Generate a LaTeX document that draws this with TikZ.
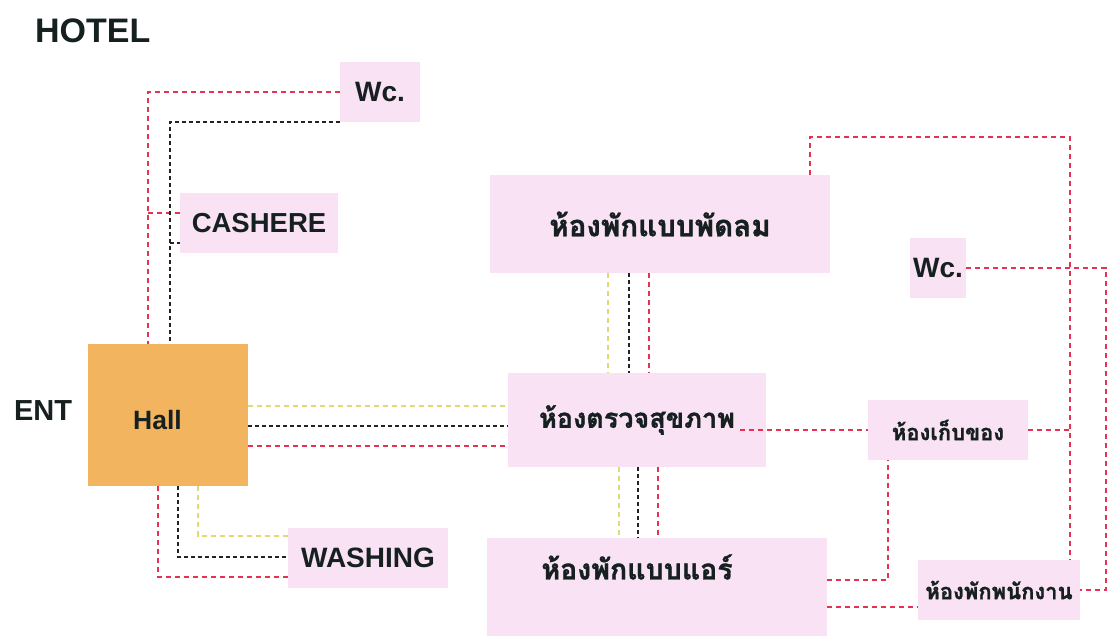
\documentclass[tikz,border=0pt]{standalone}
\usepackage{fontspec}
\setmainfont{Liberation Sans}
\newfontfamily\thaifont[Script=Thai, BoldFeatures={FakeBold=1.2}]{Loma}
\definecolor{pinkbox}{RGB}{248,226,243}
\definecolor{hallor}{RGB}{242,180,95}
\definecolor{redl}{RGB}{228,50,80}
\definecolor{blackl}{RGB}{35,35,35}
\definecolor{yell}{RGB}{222,218,120}
\definecolor{txt}{RGB}{22,32,32}
\begin{document}
\begin{tikzpicture}[x=1pt,y=-1pt,
  box/.style={fill=pinkbox, draw=none, inner sep=0pt, text=txt},
  lat/.style={font=\bfseries\fontsize{28}{30}\selectfont, text=txt},
  th/.style={font=\thaifont\bfseries\fontsize{#1}{32}\selectfont, text=txt},
  rl/.style={draw=redl, line width=1.3pt, dash pattern=on 5pt off 4pt},
  bl/.style={draw=blackl, line width=1.8pt, dash pattern=on 4pt off 3pt},
  yl/.style={draw=yell, line width=1.2pt, dash pattern=on 5pt off 4pt}]
\useasboundingbox[fill=white] (0,0) rectangle (1110,636);

% titles
\node[lat, font=\bfseries\fontsize{34}{36}\selectfont, anchor=west, inner sep=0pt] (hotel) at (35,31) {HOTEL};
\node[lat, font=\bfseries\fontsize{29}{31}\selectfont, inner sep=0pt] (ent) at (43,411) {ENT};

% boxes
\node[box, lat, minimum width=80pt, minimum height=60pt] (wc1) at (380,92) {Wc.};
\node[box, lat, font=\bfseries\fontsize{27.5}{30}\selectfont, minimum width=158pt, minimum height=60pt] (cash) at (259,223) {CASHERE};
\node[fill=hallor, draw=none, inner sep=0pt, minimum width=160pt, minimum height=142pt,
  label={[lat, font=\bfseries\fontsize{26.5}{28}\selectfont, xshift=-10.5pt, yshift=-5pt]center:Hall}] (hall) at (168,415) {};
\node[box, lat, minimum width=160pt, minimum height=60pt] (wash) at (368,558) {WASHING};
\node[box, th=29.5, minimum width=340pt, minimum height=98pt] (fan) at (660,224) {ห้องพักแบบพัดลม};
\node[box, th=27, minimum width=258pt, minimum height=94pt] (check) at (637,420) {ห้องตรวจสุขภาพ};
\node[box, minimum width=340pt, minimum height=98pt,
  label={[th=28.5, xshift=-20pt, yshift=20pt]center:ห้องพักแบบแอร์}] (air) at (657,587) {};
\node[box, lat, minimum width=56pt, minimum height=60pt] (wc2) at (938,268) {Wc.};
\node[box, th=22, minimum width=160pt, minimum height=60pt] (store) at (948,430) {ห้องเก็บของ};
\node[box, th=22, minimum width=162pt, minimum height=60pt] (staff) at (999,590) {ห้องพักพนักงาน};

% bend coordinates
\coordinate (rA) at (148,92);
\coordinate (cj) at (148,213);
\coordinate (bA) at (170,123);
\coordinate (bj) at (170,243);
\coordinate (rB) at (158,577);
\coordinate (bB) at (178,557);
\coordinate (yB) at (198,536);
\coordinate (yC) at (0,406);
\coordinate (bC) at (0,426);
\coordinate (rC) at (0,446);
\coordinate (yD) at (608,0);
\coordinate (bD) at (629,0);
\coordinate (rD) at (649,0);
\coordinate (yF) at (619,0);
\coordinate (bF) at (638,0);
\coordinate (rFx) at (658,0);
\coordinate (cx) at (740,0);
\coordinate (rE) at (810,137);
\coordinate (rF) at (1070,137);
\coordinate (rG) at (1106,268);
\coordinate (rH) at (888,580);
\coordinate (rI) at (0,607);

% top-left
\draw[rl] (wc1.west) -- (wc1.west -| rA) -- (rA |- hall.north);
\draw[rl] (cj) -- (cj -| cash.west);
\draw[bl] (wc1.south west) -- (wc1.south west -| bA) -- (bA |- hall.north);
\draw[bl] (bj) -- (bj -| cash.west);

% hall bottom to washing
\draw[rl] (rB |- hall.south) -- (rB) -- (rB -| wash.west);
\draw[bl] (bB |- hall.south) -- (bB) -- (bB -| wash.west);
\draw[yl] (yB |- hall.south) -- (yB) -- (yB -| wash.west);

% hall to check
\draw[yl] (yC -| hall.east) -- (yC -| check.west);
\draw[bl] (bC -| hall.east) -- (bC -| check.west);
\draw[rl] (rC -| hall.east) -- (rC -| check.west);

% fan to check
\draw[yl] (fan.south -| yD) -- (check.north -| yD);
\draw[bl] (fan.south -| bD) -- (check.north -| bD);
\draw[rl] (fan.south -| rD) -- (check.north -| rD);

% check to air
\draw[yl] (check.south -| yF) -- (air.north -| yF);
\draw[bl] (check.south -| bF) -- (air.north -| bF);
\draw[rl] (check.south -| rFx) -- (air.north -| rFx);

% right side
\draw[rl] (store.west -| cx) -- (store.west);
\draw[rl] (fan.north -| rE) -- (rE) -- (rF) -- (rF |- staff.north);
\draw[rl] (store.east) -- (store.east -| rF);
\draw[rl] (wc2.east) -- (wc2.east -| rG) -- (rG |- staff.east) -- (staff.east);
\draw[rl] (rH -| air.east) -- (rH) -- (rH |- store.south);
\draw[rl] (rI -| air.east) -- (rI -| staff.west);
\end{tikzpicture}
\end{document}
